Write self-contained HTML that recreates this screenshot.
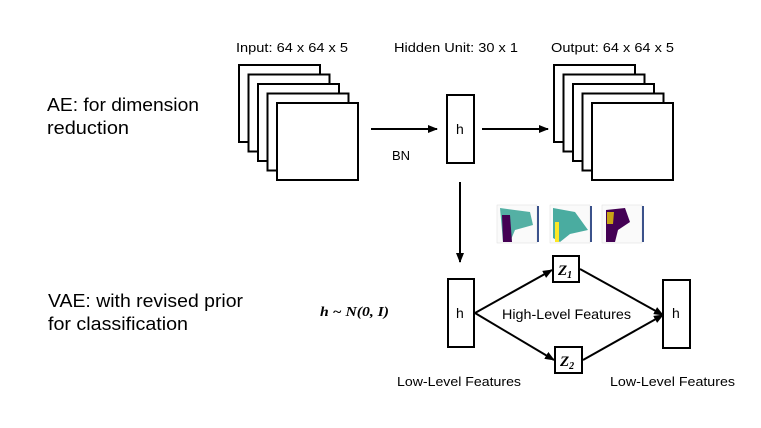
<!DOCTYPE html>
<html><head><meta charset="utf-8"><style>
html,body{margin:0;padding:0;background:#fff;}
svg{display:block;}
text{font-family:"Liberation Sans","Noto Sans CJK SC",sans-serif;fill:#000;}
text.m{font-family:"Liberation Serif",serif;font-weight:bold;font-style:italic;}
</style></head><body>
<svg width="761" height="428" viewBox="0 0 761 428" xmlns="http://www.w3.org/2000/svg">
<defs>
<marker id="ar" markerWidth="10" markerHeight="8" refX="9" refY="4" orient="auto" markerUnits="userSpaceOnUse">
<path d="M0,0 L10,4 L0,8 z" fill="#000"/>
</marker>
</defs>
<text x="47" y="111" font-size="18" textLength="152" lengthAdjust="spacingAndGlyphs">AE: for dimension</text>
<text x="47" y="134" font-size="18" textLength="82" lengthAdjust="spacingAndGlyphs">reduction</text>
<text x="48" y="307" font-size="18" textLength="195" lengthAdjust="spacingAndGlyphs">VAE: with revised prior</text>
<text x="48" y="330" font-size="18" textLength="140" lengthAdjust="spacingAndGlyphs">for classification</text>
<text x="236" y="52" font-size="13" textLength="112" lengthAdjust="spacingAndGlyphs">Input: 64 x 64 x 5</text>
<text x="394" y="52" font-size="13" textLength="124" lengthAdjust="spacingAndGlyphs">Hidden Unit: 30 x 1</text>
<text x="551" y="52" font-size="13" textLength="123" lengthAdjust="spacingAndGlyphs">Output: 64 x 64 x 5</text>
<g fill="#fff" stroke="#000" stroke-width="2">
<rect x="239" y="65" width="81" height="77"/>
<rect x="248.5" y="74.5" width="81" height="77"/>
<rect x="258" y="84" width="81" height="77"/>
<rect x="267.5" y="93.5" width="81" height="77"/>
<rect x="277" y="103" width="81" height="77"/>
<rect x="554" y="65" width="81" height="77"/>
<rect x="563.5" y="74.5" width="81" height="77"/>
<rect x="573" y="84" width="81" height="77"/>
<rect x="582.5" y="93.5" width="81" height="77"/>
<rect x="592" y="103" width="81" height="77"/>
<rect x="447" y="95" width="27" height="68"/>
<rect x="448" y="279" width="26" height="68"/>
<rect x="663" y="280" width="27" height="68"/>
<rect x="553" y="256" width="26" height="26"/>
<rect x="555" y="347" width="27" height="26"/>
</g>
<g stroke="#000" stroke-width="2" fill="none">
<line x1="371" y1="129" x2="437" y2="129" marker-end="url(#ar)"/>
<line x1="482" y1="129" x2="548" y2="129" marker-end="url(#ar)"/>
<line x1="460" y1="182" x2="460" y2="262" marker-end="url(#ar)"/>
<line x1="475" y1="313" x2="552" y2="270" marker-end="url(#ar)"/>
<line x1="475" y1="313" x2="554" y2="360" marker-end="url(#ar)"/>
<line x1="580" y1="269" x2="663" y2="315" marker-end="url(#ar)"/>
<line x1="583" y1="360" x2="663" y2="315" marker-end="url(#ar)"/>
</g>
<text x="392" y="160" font-size="13">BN</text>
<text x="456" y="134" font-size="14">h</text>
<text x="456" y="318" font-size="14">h</text>
<text x="672" y="318" font-size="14">h</text>
<text x="502" y="319" font-size="14" textLength="129" lengthAdjust="spacingAndGlyphs">High-Level Features</text>
<text x="397" y="386" font-size="13" textLength="124" lengthAdjust="spacingAndGlyphs">Low-Level Features</text>
<text x="610" y="386" font-size="13" textLength="125" lengthAdjust="spacingAndGlyphs">Low-Level Features</text>
<text class="m" x="320" y="316" font-size="14" textLength="69" lengthAdjust="spacingAndGlyphs">h ~ N(0, I)</text>
<text class="m" x="558" y="275" font-size="15">Z<tspan font-size="10" dy="3">1</tspan></text>
<text class="m" x="560" y="366" font-size="15">Z<tspan font-size="10" dy="3">2</tspan></text>
<g>
<rect x="497" y="205" width="40" height="38" fill="#fafafa" stroke="#ddd" stroke-width="0.5"/>
<path d="M500,208 L530,212 L533,225 L515,230 L510,242 L503,242 Z" fill="#2a9d8f" opacity="0.8"/>
<path d="M502,215 L510,215 L512,242 L503,242 Z" fill="#440154"/>
<rect x="537" y="206" width="2" height="36" fill="#3b528b"/>
<rect x="550" y="205" width="40" height="38" fill="#fafafa" stroke="#ddd" stroke-width="0.5"/>
<path d="M553,208 L575,212 L588,230 L570,234 L560,242 L553,238 Z" fill="#2a9d8f" opacity="0.85"/>
<path d="M555,222 L559,222 L559,242 L555,242 Z" fill="#fde725"/>
<rect x="590" y="206" width="2" height="36" fill="#3b528b"/>
<rect x="602" y="205" width="40" height="38" fill="#fafafa" stroke="#ddd" stroke-width="0.5"/>
<path d="M606,210 L625,208 L630,222 L618,230 L615,242 L606,242 Z" fill="#440154"/>
<path d="M607,212 L614,212 L613,224 L607,224 Z" fill="#c8a415"/>
<rect x="642" y="206" width="2" height="36" fill="#3b528b"/>
</g>
</svg>
</body></html>
